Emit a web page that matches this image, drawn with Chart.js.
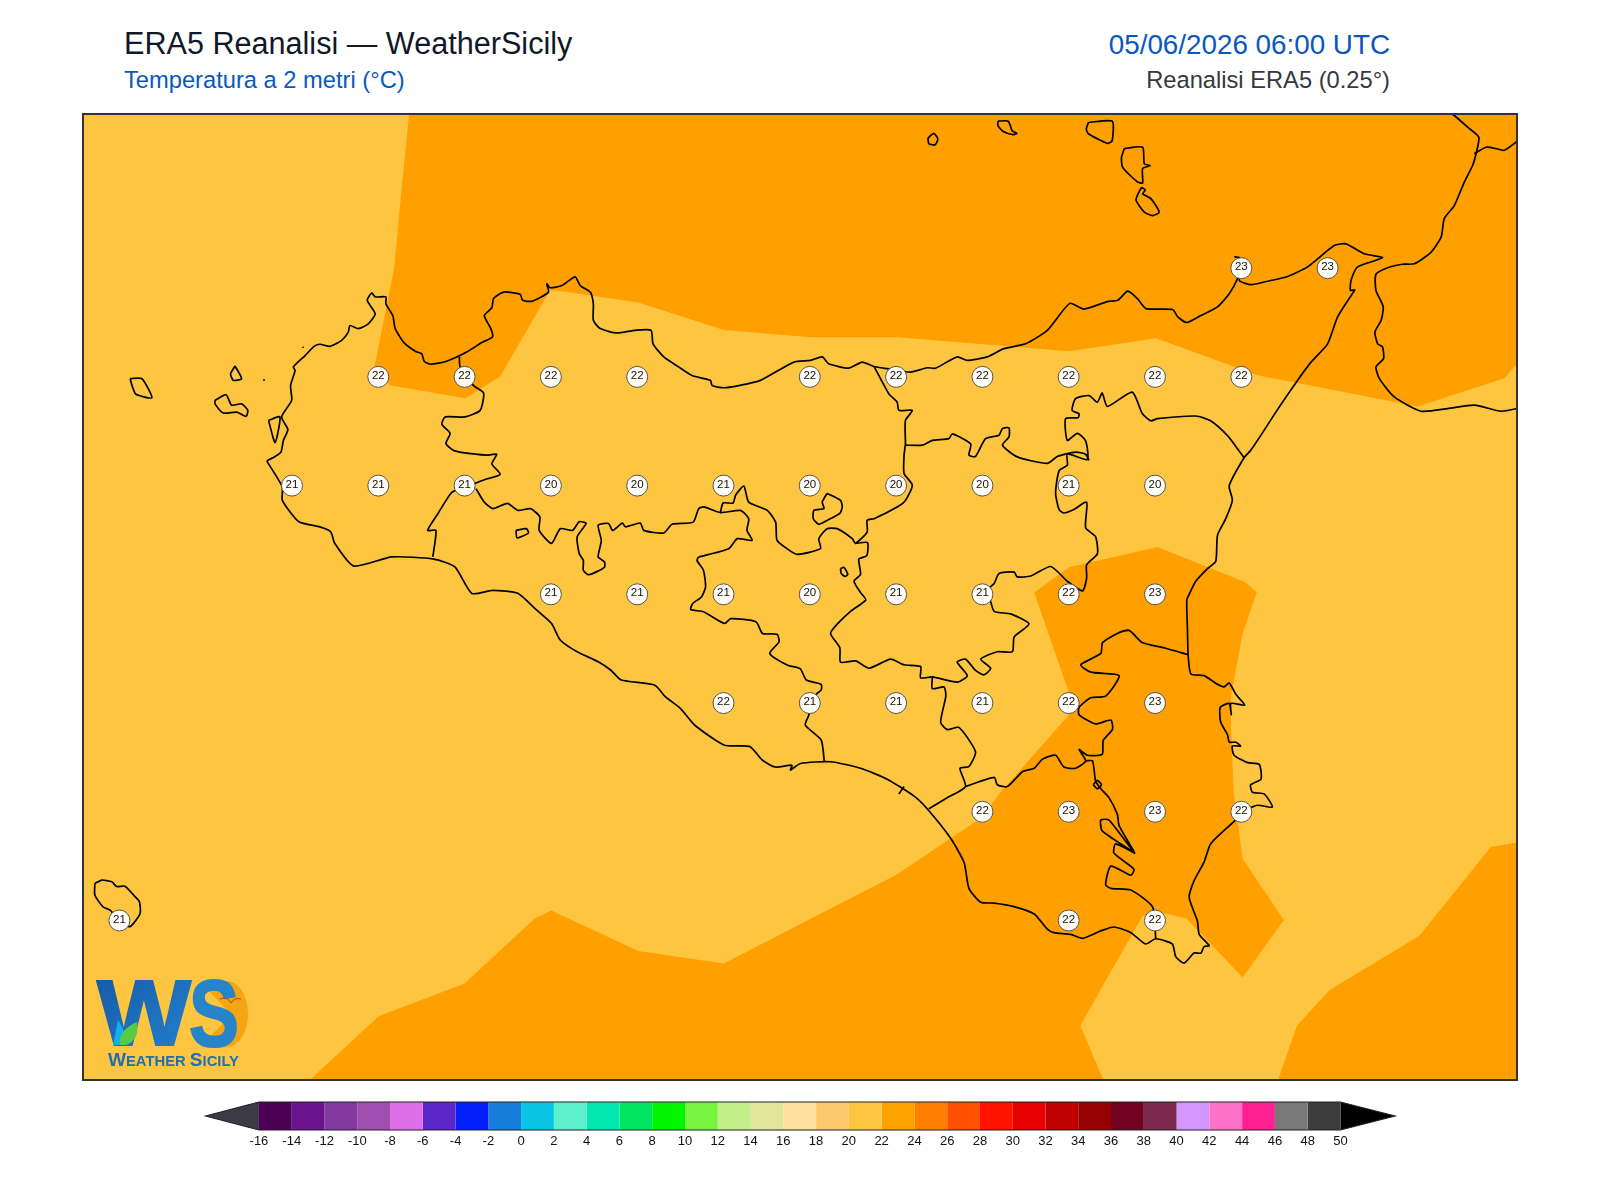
<!DOCTYPE html>
<html lang="it">
<head>
<meta charset="utf-8">
<title>ERA5 Reanalisi - WeatherSicily</title>
<script src="https://cdn.jsdelivr.net/npm/chart.js@4/dist/chart.umd.js"></script>
<style>
  html, body { margin: 0; background: #fff; }
  body { position: relative; width: 1600px; height: 1200px; overflow: hidden; font-family: "Liberation Sans", Arial, sans-serif; }
  canvas { position: absolute; left: 0; }
  #mapChart { top: 0; }
  #barChart { top: 1090px; }
  .head { position: absolute; white-space: nowrap; line-height: 1; }
  #title  { left: 124px; top: 28px; font-size: 30.6px; color: #111827; }
  #sub    { left: 124px; top: 69px; font-size: 23.7px; color: #0a58bd; }
  #date   { right: 210px; top: 31px; font-size: 27.8px; color: #0a58bd; }
  #source { right: 210px; top: 69px; font-size: 23.7px; color: #343a40; }
  #logo { position: absolute; left: 0; top: 0; pointer-events: none; }
</style>
</head>
<body>
<div class="head" id="title">ERA5 Reanalisi — WeatherSicily</div>
<div class="head" id="sub">Temperatura a 2 metri (°C)</div>
<div class="head" id="date">05/06/2026 06:00 UTC</div>
<div class="head" id="source">Reanalisi ERA5 (0.25°)</div>
<canvas id="mapChart" width="1600" height="1100"></canvas>
<canvas id="barChart" width="1600" height="70"></canvas>

<svg id="logo" width="1600" height="1200">
  <defs>
    <linearGradient id="wsBlue" x1="0" y1="0" x2="1" y2="1">
      <stop offset="0" stop-color="#1558a6"/><stop offset="1" stop-color="#2483cf"/>
    </linearGradient>
  </defs>
  <path d="M208 990 Q218 980 227 981 A21 33 0 0 1 227 1047 Q215 1050 200 1046 L232 1015 Z" fill="#f5a413"/>
  <text x="97" y="1045" font-size="92" font-weight="bold" fill="url(#wsBlue)" stroke="url(#wsBlue)" stroke-width="2" textLength="94" lengthAdjust="spacingAndGlyphs">W</text>
  <text x="189" y="1046" font-size="94" font-weight="bold" fill="#2585c8" stroke="#2585c8" stroke-width="2" textLength="50" lengthAdjust="spacingAndGlyphs">S</text>
  <path d="M113 1045 L118 1020 Q128 1035 124 1045 Z" fill="#12b0ee"/>
  <path d="M120 1045 Q118 1030 137 1022 Q140 1040 126 1045 Z" fill="#5ac943"/>
  <path d="M220 999 Q227 996 231 1003 Q235 997 241 999" fill="none" stroke="#b5451b" stroke-width="1"/>
  <text x="108" y="1066" font-size="14" font-weight="bold" fill="#1f6fb5" textLength="131" lengthAdjust="spacingAndGlyphs"><tspan font-size="18">W</tspan>EATHER <tspan font-size="18">S</tspan>ICILY</text>
</svg>

<script>
// map extent, degrees
var lonMin = 11.8946, lonMax = 16.0486, latMin = 36.3832, latMax = 38.6045;

// ERA5 grid points that carry a label
var gridLons = [15.25,15.5,
  12.75,13,13.25,13.5,14,14.25,14.5,14.75,15,15.25,
  12.5,12.75,13,13.25,13.5,13.75,14,14.25,14.5,14.75,15,
  13.25,13.5,13.75,14,14.25,14.5,14.75,15,
  13.75,14,14.25,14.5,14.75,15,
  14.5,14.75,15,15.25,
  12,14.75,15];
var gridLats = [38.25,38.25,
  38,38,38,38,38,38,38,38,38,38,
  37.75,37.75,37.75,37.75,37.75,37.75,37.75,37.75,37.75,37.75,37.75,
  37.5,37.5,37.5,37.5,37.5,37.5,37.5,37.5,
  37.25,37.25,37.25,37.25,37.25,37.25,
  37,37,37,37,
  36.75,36.75,36.75];
var gridValues = [23,23,
  22,22,22,22,22,22,22,22,22,22,
  21,21,21,20,20,21,20,20,20,21,20,
  21,21,21,20,21,21,22,23,
  22,21,21,21,22,23,
  22,23,23,22,
  21,22,22];

// 22-24 degree band
var bandNorth = [[12.84,38.61],[12.818,38.436],[12.796,38.25],[12.739,38.023],[12.783,37.981],[13.002,37.951],[13.103,38.001],[13.248,38.2],
  [13.297,38.195],[13.364,38.187],[13.503,38.171],[13.751,38.108],[14.003,38.091],[14.252,38.091],[14.503,38.075],[14.751,38.059],
  [15.003,38.089],[15.297,38.004],[15.761,37.932],[16.012,37.997],[16.06,38.04],[16.06,38.61]];
var bandSouth = [[12.547,36.38],[12.751,36.53],[13,36.605],[13.204,36.755],[13.251,36.773],[13.503,36.68],[13.751,36.651],[14.252,36.856],
  [14.495,36.985],[14.553,37.045],[14.751,37.223],[14.754,37.266],[14.65,37.504],[14.751,37.562],[15.007,37.609],[15.259,37.529],
  [15.295,37.505],[15.254,37.41],[15.22,37.266],[15.22,37.198],[15.228,37.045],[15.254,36.892],[15.373,36.751],[15.254,36.619],
  [15.092,36.754],[15.003,36.771],[14.964,36.76],[14.858,36.613],[14.784,36.508],[14.852,36.38]];
var bandSouthEast = [[15.355,36.38],[15.411,36.508],[15.506,36.59],[15.766,36.715],[15.973,36.919],[16.06,36.931],[16.06,36.38]];

var coastSicily = [[12.427,37.807],[12.451,37.817],[12.468,37.827],[12.475,37.854],[12.488,37.879],[12.47,37.908],[12.499,37.946],[12.496,37.98],
  [12.509,38.015],[12.504,38.023],[12.538,38.049],[12.564,38.07],[12.581,38.075],[12.61,38.07],[12.644,38.084],[12.663,38.103],
  [12.668,38.118],[12.692,38.111],[12.721,38.122],[12.741,38.145],[12.718,38.176],[12.731,38.193],[12.741,38.184],[12.772,38.184],
  [12.772,38.168],[12.792,38.141],[12.799,38.111],[12.823,38.08],[12.857,38.059],[12.876,38.053],[12.883,38.036],[12.9,38.029],
  [12.948,38.036],[13.006,38.057],[13.05,38.079],[13.081,38.092],[13.076,38.111],[13.057,38.141],[13.079,38.159],[13.084,38.18],
  [13.113,38.195],[13.161,38.19],[13.168,38.176],[13.195,38.174],[13.243,38.195],[13.238,38.214],[13.248,38.205],[13.282,38.21],
  [13.32,38.23],[13.335,38.21],[13.364,38.195],[13.373,38.168],[13.373,38.13],[13.393,38.111],[13.441,38.101],[13.494,38.107],
  [13.54,38.107],[13.546,38.076],[13.577,38.046],[13.62,38.023],[13.659,38.003],[13.712,37.992],[13.717,37.98],[13.751,37.975],
  [13.794,37.98],[13.857,37.992],[13.954,38.034],[14.002,38.038],[14.036,38.046],[14.055,38.03],[14.113,38.02],[14.152,38.034],
  [14.186,38.024],[14.224,38.019],[14.292,38.011],[14.34,38.021],[14.364,38.02],[14.427,38.046],[14.456,38.038],[14.514,38.046],
  [14.562,38.065],[14.625,38.076],[14.688,38.107],[14.753,38.169],[14.794,38.156],[14.862,38.173],[14.892,38.176],[14.921,38.197],
  [14.949,38.18],[14.974,38.157],[15.051,38.155],[15.066,38.138],[15.092,38.125],[15.133,38.141],[15.181,38.161],[15.215,38.191],
  [15.239,38.226],[15.249,38.253],[15.244,38.274],[15.23,38.276],[15.244,38.274],[15.254,38.249],[15.244,38.222],[15.278,38.212],
  [15.326,38.22],[15.384,38.231],[15.442,38.253],[15.519,38.302],[15.553,38.306],[15.606,38.283],[15.659,38.274],[15.587,38.253],
  [15.568,38.222],[15.566,38.199],[15.579,38.2],[15.573,38.193],[15.529,38.138],[15.5,38.076],[15.452,38.034],[15.403,37.981],
  [15.35,37.919],[15.306,37.865],[15.277,37.831],[15.258,37.814],[15.215,37.75],[15.224,37.716],[15.205,37.674],[15.181,37.636],
  [15.176,37.576],[15.152,37.559],[15.118,37.53],[15.099,37.5],[15.092,37.487],[15.094,37.419],[15.096,37.36],[15.104,37.317],
  [15.142,37.313],[15.181,37.293],[15.2,37.287],[15.215,37.296],[15.234,37.27],[15.26,37.245],[15.22,37.249],[15.221,37.223],
  [15.215,37.249],[15.189,37.24],[15.19,37.207],[15.21,37.177],[15.215,37.16],[15.234,37.16],[15.248,37.151],[15.224,37.151],
  [15.229,37.13],[15.268,37.113],[15.302,37.109],[15.307,37.075],[15.277,37.062],[15.282,37.045],[15.316,37.041],[15.34,37.011],
  [15.297,37.015],[15.272,37.007],[15.21,36.964],[15.161,36.926],[15.142,36.884],[15.113,36.841],[15.099,36.803],[15.123,36.748],
  [15.128,36.718],[15.157,36.692],[15.142,36.69],[15.133,36.675],[15.113,36.675],[15.084,36.652],[15.06,36.667],[15.05,36.696],
  [15.002,36.708],[14.973,36.696],[14.93,36.722],[14.881,36.735],[14.843,36.726],[14.79,36.709],[14.756,36.718],[14.707,36.722],
  [14.688,36.73],[14.65,36.765],[14.591,36.782],[14.534,36.79],[14.495,36.792],[14.461,36.824],[14.447,36.883],[14.408,36.939],
  [14.34,37.007],[14.302,37.036],[14.224,37.075],[14.147,37.1],[14.06,37.115],[13.973,37.111],[13.944,37.096],[13.948,37.107],
  [13.899,37.103],[13.862,37.119],[13.826,37.15],[13.753,37.153],[13.667,37.199],[13.625,37.238],[13.582,37.264],[13.551,37.291],
  [13.454,37.303],[13.423,37.326],[13.387,37.345],[13.326,37.368],[13.277,37.395],[13.252,37.433],[13.204,37.467],[13.155,37.502],
  [13.082,37.509],[13.021,37.502],[12.972,37.563],[12.911,37.581],[12.789,37.586],[12.679,37.565],[12.624,37.617],[12.612,37.644],
  [12.581,37.655],[12.52,37.667],[12.472,37.716],[12.472,37.747],[12.429,37.804],[12.427,37.807]];

var coastCalabria = [[15.85,38.61],[15.867,38.601],[15.906,38.574],[15.938,38.551],[15.93,38.513],[15.92,38.486],[15.896,38.448],[15.867,38.394],
  [15.838,38.364],[15.829,38.322],[15.8,38.287],[15.751,38.26],[15.717,38.259],[15.674,38.251],[15.64,38.236],[15.64,38.199],
  [15.661,38.161],[15.655,38.13],[15.637,38.103],[15.645,38.076],[15.659,38.069],[15.662,38.042],[15.64,38.023],[15.65,37.996],
  [15.693,37.954],[15.771,37.921],[15.848,37.927],[15.925,37.935],[16.003,37.921],[16.06,37.929]];
var borderCalabria = [[15.925,38.513],[15.959,38.528],[15.993,38.524],[16.012,38.521],[16.046,38.54],[16.06,38.55]];

var stagnone = [[12.432,37.9],[12.465,37.908],[12.451,37.849],[12.432,37.9]];
var marettimo = [[12.031,37.996],[12.065,37.996],[12.094,37.952],[12.048,37.96],[12.038,37.977],[12.031,37.996]];
var levanzo = [[12.335,38.025],[12.322,38.007],[12.33,37.992],[12.354,37.996],[12.335,38.025]];
var favignana = [[12.277,37.946],[12.309,37.959],[12.325,37.935],[12.354,37.938],[12.372,37.923],[12.367,37.909],[12.34,37.919],[12.301,37.917],[12.277,37.938],[12.277,37.946]];
var pantelleria = [[11.929,36.835],[11.949,36.843],[11.978,36.839],[11.992,36.828],[12.016,36.829],[12.045,36.805],[12.058,36.793],[12.06,36.766],[12.031,36.736],[12,36.75],[11.973,36.774],[11.953,36.781],[11.929,36.808],[11.929,36.835]];
var alicudi = [[14.342,38.549],[14.359,38.56],[14.371,38.547],[14.363,38.534],[14.345,38.536],[14.342,38.549]];
var filicudi = [[14.545,38.588],[14.575,38.588],[14.586,38.566],[14.6,38.56],[14.589,38.557],[14.559,38.565],[14.545,38.578],[14.545,38.588]];
var salina = [[14.807,38.585],[14.876,38.588],[14.876,38.543],[14.862,38.537],[14.807,38.559],[14.801,38.57],[14.807,38.585]];
var lipari = [[14.911,38.525],[14.964,38.528],[14.969,38.49],[14.986,38.486],[14.964,38.479],[14.964,38.446],[14.948,38.449],[14.906,38.482],[14.903,38.505],[14.911,38.525]];
var vulcano = [[14.961,38.436],[14.972,38.43],[14.964,38.421],[14.988,38.41],[15.012,38.379],[14.993,38.371],[14.969,38.379],[14.945,38.406],[14.951,38.421],[14.961,38.436]];

var borderTrapaniPalermo = [[12.985,38.046],[12.987,38.023],[13.026,37.98],[13.055,37.963],[13.045,37.923],[13.001,37.908],[12.944,37.908],[12.934,37.891],
  [12.958,37.87],[12.946,37.847],[12.971,37.83],[13.064,37.82],[13.093,37.822],[13.079,37.8],[13.103,37.776],[13.059,37.764],[13.03,37.755]];
var borderTrapaniAgrigento = [[13.03,37.755],[12.984,37.743],[12.96,37.732],[12.923,37.686],[12.893,37.647],[12.917,37.647],[12.908,37.586]];
var borderAgrigentoNorth = [[13.033,37.743],[13.057,37.712],[13.082,37.697],[13.124,37.709],[13.155,37.693],[13.191,37.697],[13.218,37.678],[13.216,37.647],
  [13.252,37.617],[13.277,37.651],[13.313,37.647],[13.332,37.667],[13.352,37.663],[13.326,37.632],[13.332,37.594],[13.344,37.578],
  [13.344,37.555],[13.36,37.545],[13.405,37.562],[13.405,37.575],[13.387,37.586],[13.396,37.624],[13.387,37.659],[13.417,37.663],
  [13.429,37.647],[13.457,37.664],[13.466,37.655],[13.509,37.664],[13.519,37.647],[13.577,37.641],[13.601,37.661],[13.662,37.666],
  [13.678,37.697],[13.693,37.701],[13.741,37.688],[13.799,37.693],[13.823,37.674],[13.818,37.647],[13.833,37.624],[13.79,37.628],
  [13.765,37.605],[13.678,37.586]];
var borderAgrigentoSouth = [[13.678,37.586],[13.673,37.578],[13.692,37.555],[13.698,37.517],[13.686,37.494],[13.661,37.479],[13.655,37.465],[13.692,37.46],
  [13.753,37.433],[13.771,37.444],[13.844,37.437],[13.863,37.41],[13.905,37.408],[13.911,37.391],[13.884,37.364],[13.936,37.337],
  [13.972,37.329],[13.99,37.303],[14.033,37.293],[14.033,37.28],[14.021,37.272],[14.003,37.249],[13.997,37.222],[13.987,37.199],
  [14.033,37.165],[14.042,37.115]];
var borderPalermoEast = [[13.741,37.688],[13.749,37.71],[13.778,37.71],[13.785,37.728],[13.809,37.749],[13.823,37.712],[13.877,37.693],[13.901,37.666],
  [13.905,37.624],[13.934,37.605],[13.963,37.592],[14.031,37.605],[14.026,37.628],[14.05,37.651],[14.079,37.651],[14.123,37.628],
  [14.132,37.617],[14.166,37.643],[14.166,37.67],[14.186,37.674],[14.253,37.701],[14.277,37.716],[14.297,37.751],[14.273,37.778],
  [14.273,37.82],[14.277,37.846],[14.277,37.9],[14.297,37.923],[14.258,37.923],[14.253,37.942],[14.229,37.961],[14.186,38.024]];
var borderEnnaMessina = [[14.277,37.843],[14.326,37.843],[14.355,37.854],[14.403,37.858],[14.413,37.869],[14.466,37.846],[14.461,37.82],[14.48,37.817],
  [14.509,37.858],[14.548,37.866],[14.558,37.881],[14.577,37.883],[14.577,37.862],[14.558,37.843],[14.601,37.816],[14.688,37.801],
  [14.717,37.817],[14.77,37.827],[14.799,37.822],[14.809,37.808]];
var borderEnnaSouth = [[14.132,37.617],[14.167,37.619],[14.165,37.589],[14.142,37.581],[14.147,37.546],[14.128,37.53],[14.147,37.504],[14.162,37.487],
  [14.118,37.461],[14.08,37.432],[14.06,37.41],[14.087,37.377],[14.089,37.344],[14.133,37.347],[14.171,37.33],[14.234,37.351],
  [14.273,37.338],[14.321,37.334],[14.321,37.308],[14.355,37.31],[14.427,37.298],[14.456,37.313],[14.427,37.344],[14.451,37.351],
  [14.48,37.325],[14.505,37.315],[14.524,37.33],[14.495,37.351],[14.543,37.368],[14.587,37.368],[14.592,37.402],[14.635,37.432],
  [14.582,37.455],[14.534,37.461],[14.519,37.496],[14.505,37.504],[14.534,37.525],[14.548,37.548],[14.592,37.551],[14.601,37.54],
  [14.64,37.542],[14.698,37.564],[14.746,37.53],[14.79,37.508],[14.802,37.538],[14.802,37.568],[14.833,37.593],[14.828,37.632],
  [14.799,37.653],[14.802,37.712],[14.765,37.695],[14.736,37.687],[14.722,37.695],[14.712,37.733],[14.722,37.784],[14.746,37.797],
  [14.746,37.823],[14.804,37.81],[14.799,37.853],[14.775,37.87],[14.746,37.854],[14.741,37.904],[14.777,37.906],[14.78,37.915],
  [14.76,37.923],[14.77,37.95],[14.809,37.957],[14.833,37.942],[14.847,37.963],[14.862,37.932],[14.934,37.965],[14.963,37.916],
  [14.988,37.899],[15.007,37.904],[15.118,37.91],[15.161,37.899],[15.21,37.865],[15.239,37.835],[15.258,37.814]];
var borderRagusaWest = [[14.355,37.31],[14.355,37.283],[14.389,37.287],[14.394,37.266],[14.379,37.206],[14.398,37.189],[14.432,37.194],[14.48,37.138],
  [14.461,37.104],[14.435,37.1],[14.451,37.058],[14.398,37.032],[14.345,37.007]];
var borderRagusaNorth = [[14.451,37.058],[14.534,37.079],[14.543,37.062],[14.572,37.058],[14.616,37.092],[14.65,37.1],[14.674,37.121],[14.712,37.13],
  [14.736,37.103],[14.77,37.1],[14.799,37.117],[14.78,37.143],[14.804,37.13],[14.847,37.132],[14.85,37.164],[14.877,37.19],
  [14.872,37.211],[14.828,37.202],[14.78,37.223],[14.78,37.24],[14.814,37.262],[14.857,37.266],[14.896,37.313],[14.814,37.321],
  [14.785,37.338],[14.843,37.364],[14.848,37.389],[14.891,37.41],[14.925,37.417],[14.963,37.389],[15.031,37.376],[15.096,37.361]];
var borderRagusaEast = [[14.799,37.117],[14.819,37.117],[14.828,37.07],[14.843,37.053],[14.867,37.032],[14.891,36.994],[14.896,36.968],[14.941,36.905],
  [14.867,36.981],[14.843,36.981],[14.847,36.956],[14.941,36.905],[14.886,36.926],[14.881,36.905],[14.939,36.868],[14.93,36.854],
  [14.872,36.875],[14.857,36.832],[14.872,36.824],[14.93,36.82],[14.993,36.781],[15.002,36.709]];
var lakeOne = [[13.149,37.647],[13.179,37.651],[13.185,37.641],[13.152,37.63],[13.149,37.647]];
var lakeTwo = [[14.05,37.732],[14.089,37.716],[14.094,37.701],[14.087,37.686],[14.05,37.67],[14.026,37.661],[14.01,37.674],[14.012,37.693],[14.041,37.697],[14.036,37.712],[14.05,37.732]];
var lakeThree = [[14.089,37.559],[14.099,37.562],[14.11,37.546],[14.102,37.541],[14.091,37.548],[14.089,37.559]];
var lakeFour = [[14.821,37.062],[14.833,37.072],[14.845,37.062],[14.833,37.053],[14.821,37.062]];
var tickGela = [[14.258,37.041],[14.273,37.058]];
var dotOne = [[12.417,37.994],[12.421,37.992]];
var dotTwo = [[12.531,38.069],[12.533,38.067]];

var outlines = [coastSicily, coastCalabria, borderCalabria, stagnone, marettimo, levanzo, favignana, pantelleria,
  alicudi, filicudi, salina, lipari, vulcano, borderTrapaniPalermo, borderTrapaniAgrigento, borderAgrigentoNorth,
  borderAgrigentoSouth, borderPalermoEast, borderEnnaMessina, borderEnnaSouth, borderRagusaWest, borderRagusaNorth,
  borderRagusaEast, lakeOne, lakeTwo, lakeThree, lakeFour, tickGela, dotOne, dotTwo];

// colour bar
var barTicks = [-16,-14,-12,-10,-8,-6,-4,-2,0,2,4,6,8,10,12,14,16,18,20,22,24,26,28,30,32,34,36,38,40,42,44,46,48,50];
var barColors = ['#4b0055','#6b128f','#8339a0','#9e4fb0','#dd6fe8','#5a26c5','#0420fa','#157fdb','#0ac6e4','#5ef0cc','#00e8af',
  '#00e660','#00f500','#78f440','#c3ee88','#e2e698','#fee09c','#fec86f','#fec63e','#ffa200','#ff8000','#ff5000','#ff1300',
  '#e60000','#be0000','#960000','#720320','#7d294f','#d296fe','#fe72c8','#fe1f90','#787878','#3c3c3c'];
var barTipLow = -19.25, barTipHigh = 53.33;

var LAND = '#fec540', WARM = '#ffa000';

function toXY(list) {
  return list.map(function (p) { return { x: p[0], y: p[1] }; });
}

function polygon(list, color, order) {
  return { type: 'scatter', data: toXY(list), showLine: true, fill: 'shape', backgroundColor: color,
           borderColor: color, borderWidth: 0, pointRadius: 0, order: order };
}

var mapDatasets = [polygon(bandNorth, WARM, 3), polygon(bandSouth, WARM, 3), polygon(bandSouthEast, WARM, 3)];
outlines.forEach(function (list) {
  mapDatasets.push({ data: toXY(list), showLine: true, fill: false, borderColor: '#000', borderWidth: 1.7,
                     tension: 0.2, pointRadius: 0, order: 2 });
});
mapDatasets.push({
  data: gridLons.map(function (lon, i) { return { x: lon, y: gridLats[i] }; }),
  showLine: false, pointRadius: 10.5, pointBackgroundColor: '#fffdf6', pointBorderColor: '#555', pointBorderWidth: 1, order: 1
});
var gridIndex = mapDatasets.length - 1;

var mapFrame = {
  id: 'mapFrame',
  beforeDatasetsDraw: function (chart) {
    var a = chart.chartArea;
    chart.ctx.fillStyle = LAND;
    chart.ctx.fillRect(a.left, a.top, a.width, a.height);
  },
  afterDraw: function (chart) {
    var a = chart.chartArea, ctx = chart.ctx;
    ctx.save();
    ctx.strokeStyle = '#333';
    ctx.lineWidth = 2;
    ctx.strokeRect(a.left, a.top, a.width, a.height);
    ctx.restore();
  }
};

var gridText = {
  id: 'gridText',
  afterDatasetsDraw: function (chart) {
    var ctx = chart.ctx;
    ctx.save();
    ctx.font = '11.5px "Liberation Sans"';
    ctx.fillStyle = '#111';
    ctx.textAlign = 'center';
    ctx.textBaseline = 'middle';
    chart.getDatasetMeta(gridIndex).data.forEach(function (pt, i) {
      ctx.fillText(gridValues[i], pt.x, pt.y - 1);
    });
    ctx.restore();
  }
};

new Chart(document.getElementById('mapChart'), {
  type: 'scatter',
  data: { datasets: mapDatasets },
  plugins: [mapFrame, gridText],
  options: {
    responsive: false,
    animation: false,
    devicePixelRatio: 1,
    events: [],
    layout: { padding: { left: 83, right: 83, top: 114, bottom: 20 } },
    scales: {
      x: { type: 'linear', display: false, min: lonMin, max: lonMax },
      y: { type: 'linear', display: false, min: latMin, max: latMax }
    },
    plugins: { legend: { display: false }, tooltip: { enabled: false } }
  }
});

var barDatasets = barColors.map(function (color, i) {
  var lo = barTicks[i], hi = barTicks[i + 1];
  return polygon([[lo, -1], [lo, 1], [hi, 1], [hi, -1]], color, 2);
});
barDatasets.push(polygon([[barTipLow, 0], [-16, 1], [-16, -1]], '#3c3a45', 2));
barDatasets.push(polygon([[barTipHigh, 0], [50, 1], [50, -1]], '#000', 2));
barDatasets.push({
  data: toXY([[-16, 1], [barTipLow, 0], [-16, -1], [50, -1], [barTipHigh, 0], [50, 1], [-16, 1]]),
  showLine: true, fill: false, borderColor: '#222', borderWidth: 1.2, pointRadius: 0, order: 1, clip: false
});

new Chart(document.getElementById('barChart'), {
  type: 'scatter',
  data: { datasets: barDatasets },
  options: {
    responsive: false,
    animation: false,
    devicePixelRatio: 1,
    events: [],
    layout: { padding: { left: 205.7, right: 205, top: 12, bottom: 0 } },
    scales: {
      x: {
        type: 'linear',
        min: barTipLow,
        max: barTipHigh,
        grid: { display: false, drawTicks: false },
        border: { display: false },
        ticks: {
          autoSkip: false, maxRotation: 0, padding: 4, color: '#111',
          font: { family: '"Liberation Sans"', size: 13 },
          callback: function (v) { return v; }
        },
        afterBuildTicks: function (axis) {
          axis.ticks = barTicks.map(function (v) { return { value: v }; });
        },
        afterFit: function (axis) { axis.height = 30; }
      },
      y: { type: 'linear', display: false, min: -1, max: 1 }
    },
    plugins: { legend: { display: false }, tooltip: { enabled: false } }
  }
});
</script>
</body>
</html>
